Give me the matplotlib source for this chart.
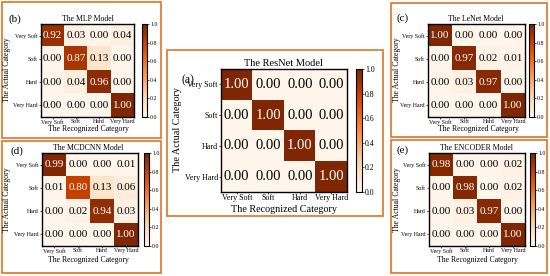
import numpy as np
import matplotlib
matplotlib.use('Agg')
import matplotlib.pyplot as plt
from matplotlib.patches import Rectangle

plt.rcParams['font.family'] = ['Liberation Serif', 'DejaVu Serif']

categories = ['Very Soft', 'Soft', 'Hard', 'Very Hard']

mlp = [[0.92, 0.03, 0.00, 0.04],
       [0.00, 0.87, 0.13, 0.00],
       [0.00, 0.04, 0.96, 0.00],
       [0.00, 0.00, 0.00, 1.00]]

mcdcnn = [[0.99, 0.00, 0.00, 0.01],
          [0.01, 0.80, 0.13, 0.06],
          [0.00, 0.02, 0.94, 0.03],
          [0.00, 0.00, 0.00, 1.00]]

resnet = [[1.00, 0.00, 0.00, 0.00],
          [0.00, 1.00, 0.00, 0.00],
          [0.00, 0.00, 1.00, 0.00],
          [0.00, 0.00, 0.00, 1.00]]

lenet = [[1.00, 0.00, 0.00, 0.00],
         [0.00, 0.97, 0.02, 0.01],
         [0.00, 0.03, 0.97, 0.00],
         [0.00, 0.00, 0.00, 1.00]]

encoder = [[0.98, 0.00, 0.00, 0.02],
           [0.00, 0.98, 0.00, 0.02],
           [0.00, 0.03, 0.97, 0.00],
           [0.00, 0.00, 0.00, 1.00]]

cbar_ticks = [0.0, 0.2, 0.4, 0.6, 0.8, 1.0]

W, H = 550, 276
ORANGE = '#de7428'

fig = plt.figure(figsize=(W / 100, H / 100), dpi=100)


def rect(x0, y0, x1, y1):
    # pixel box (top-left origin) -> figure fraction
    return [x0 / W, 1 - y1 / H, (x1 - x0) / W, (y1 - y0) / H]


def pt(x, y):
    return x / W, 1 - y / H


def panel(data, title, tag, box, mat, cbx, title_xy, xl_xy, yl_xy, tag_xy, big=False):
    if big:
        fs_title, fs_lab, fs_tick, fs_ann, fs_cb, fs_tag = 7.5, 7.3, 5.8, 10.5, 5.6, 8.5
    else:
        fs_title, fs_lab, fs_tick, fs_ann, fs_cb, fs_tag = 5.6, 5.6, 4.2, 8, 4.2, 8

    fig.add_artist(Rectangle(pt(box[0], box[3]), (box[2] - box[0]) / W,
                             (box[3] - box[1]) / H, transform=fig.transFigure,
                             fill=False, ec=ORANGE, lw=1.2))

    arr = np.array(data)
    ax = fig.add_axes(rect(*mat))
    im = ax.imshow(arr, cmap='Oranges', vmin=0, vmax=1, aspect='auto')
    for i in range(4):
        for j in range(4):
            v = arr[i, j]
            ax.text(j, i, f'{v:.2f}', ha='center', va='center', fontsize=fs_ann,
                    color='white' if v > 0.5 else 'black')
    ax.set_xticks(range(4))
    ax.set_yticks(range(4))
    ax.set_xticklabels(categories, fontsize=fs_tick)
    ax.set_yticklabels(categories, fontsize=fs_tick)
    ax.tick_params(length=1.5, width=0.5, pad=0.8)
    ax.tick_params(axis='x', length=1.2, pad=0.3)
    for s in ax.spines.values():
        s.set_linewidth(1.0)

    cax = fig.add_axes(rect(*cbx))
    cb = fig.colorbar(im, cax=cax, ticks=cbar_ticks)
    cb.ax.tick_params(labelsize=fs_cb, length=1.5, width=0.5, pad=0.8)
    cb.outline.set_linewidth(0.8)

    fig.text(*pt(*title_xy), title, ha='center', va='center', fontsize=fs_title)
    fig.text(*pt(*xl_xy), 'The Recognized Category', ha='center', va='center', fontsize=fs_lab)
    fig.text(*pt(*yl_xy), 'The Actual Category', ha='center', va='center',
             rotation=90, fontsize=fs_lab)
    fig.text(*pt(*tag_xy), tag, ha='center', va='center', fontsize=fs_tag)


panel(mlp, 'The MLP Model', '(b)', (2, 2, 161, 138), (41, 24, 134, 117),
      (142, 24, 147, 117), (88, 19), (88, 129), (7, 70), (15, 19))
panel(mcdcnn, 'The MCDCNN Model', '(d)', (2, 141, 161, 273), (42, 153, 138, 246),
      (144, 153, 149, 246), (88, 148), (88, 260), (7, 200), (17, 151))
panel(resnet, 'The ResNet Model', '(a)', (167, 50, 383, 216), (221, 69, 347, 192),
      (356, 69, 362, 192), (283, 64), (284, 209), (178, 130), (188, 80), big=True)
panel(lenet, 'The LeNet Model', '(c)', (391, 3, 547, 137), (428, 24, 525, 117),
      (529, 24, 534, 117), (476, 19), (478, 129), (397, 70), (403, 18))
panel(encoder, 'The ENCODER Model', '(e)', (391, 140, 547, 273), (429, 153, 525, 246),
      (530, 153, 535, 246), (477, 148), (477, 260), (397, 200), (403, 150))

fig.savefig('out.png', dpi=100)
